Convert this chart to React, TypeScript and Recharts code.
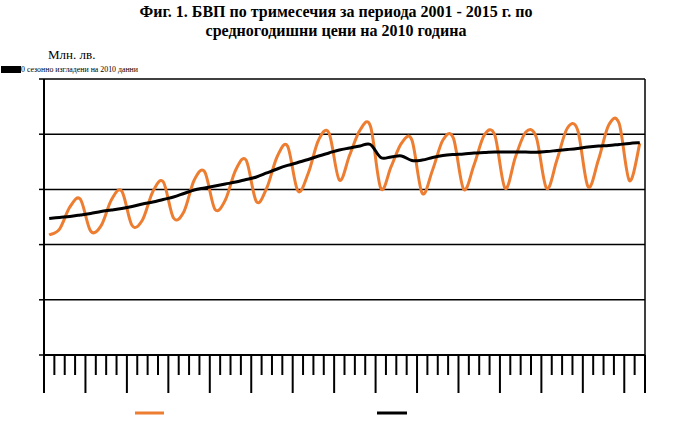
import React from 'react';
import { LineChart, Line, XAxis, YAxis, CartesianGrid, ReferenceLine } from 'recharts';

const years = [2001, 2002, 2003, 2004, 2005, 2006, 2007, 2008, 2009, 2010, 2011, 2012, 2013, 2014, 2015];
const quarters = ['I', 'II', 'III', 'IV'];

// БВП по средногодишни цени на 2010 г., млн. лв. (исходни данни)
const gdp = [
  10870, 11410, 13410, 14130,
  11230, 11690, 14040, 14860,
  11730, 12230, 14790, 15700,
  12410, 12980, 15850, 16600,
  13200, 14040, 16760, 17660,
  13890, 15130, 17960, 18930,
  14860, 16460, 19480, 20110,
  15850, 18120, 20380, 20740,
  15100, 17060, 19180, 19480,
  14650, 16760, 19480, 19660,
  15010, 17210, 19930, 19930,
  15100, 17940, 20200, 19750,
  15100, 17660, 20540, 20380,
  15250, 17660, 20830, 20990,
  15790, 19180,
];

// Сезонно изгладени данни
const trend = [
  12360, 12460, 12550, 12680,
  12820, 13000, 13130, 13270,
  13450, 13680, 13860, 14090,
  14310, 14630, 14950, 15130,
  15310, 15490, 15670, 15900,
  16120, 16490, 16850, 17170,
  17440, 17710, 18030, 18300,
  18570, 18750, 18930, 19070,
  17890, 17940, 18030, 17620,
  17660, 17890, 18070, 18160,
  18210, 18300, 18340, 18390,
  18390, 18390, 18390, 18360,
  18430, 18520, 18610, 18710,
  18840, 18930, 18980, 19070,
  19160, 19230,
];

const yTicks = [0, 5000, 10000, 15000, 20000, 25000];

const categories: string[] = [];
years.forEach((y) => quarters.forEach((q) => categories.push(`${q}.${y}`)));
const labels = categories.slice(0, gdp.length);

const data = labels.map((label, i) => ({ idx: i, label, gdp: gdp[i], trend: trend[i] }));

const n = data.length;
const xTicks = Array.from({ length: n + 1 }, (_, k) => k - 0.5);

const GDP_COLOR = '#ED7D31';
const TREND_COLOR = '#000000';

// Excel-like smoothed line (Catmull-Rom through every point)
const excelSmooth = (context: any) => {
  let pts: number[][] = [];
  return {
    areaStart() {},
    areaEnd() {},
    lineStart() {
      pts = [];
    },
    point(x: number, y: number) {
      pts.push([+x, +y]);
    },
    lineEnd() {
      const m = pts.length;
      if (!m) return;
      context.moveTo(pts[0][0], pts[0][1]);
      for (let i = 0; i < m - 1; i++) {
        const p0 = pts[i - 1] || pts[i];
        const p1 = pts[i];
        const p2 = pts[i + 1];
        const p3 = pts[i + 2] || p2;
        context.bezierCurveTo(
          p1[0] + (p2[0] - p0[0]) / 6,
          p1[1] + (p2[1] - p0[1]) / 6,
          p2[0] - (p3[0] - p1[0]) / 6,
          p2[1] - (p3[1] - p1[1]) / 6,
          p2[0],
          p2[1]
        );
      }
    },
  };
};

const XTick = (props: any) => {
  const { x, y, payload } = props;
  const k = Math.round(payload.value + 0.5);
  const major = k % 4 === 0 || k === n;
  return <line x1={x} x2={x} y1={y} y2={y + (major ? 38 : 20)} stroke="#000" strokeWidth={2} />;
};

export default function App() {
  return (
    <div style={{ position: 'absolute', left: 0, top: 0, width: 673, height: 428, background: '#fff' }}>
      <div
        style={{
          position: 'absolute',
          left: 0,
          top: 2,
          width: 672,
          textAlign: 'center',
          fontFamily: '"Liberation Serif", "Times New Roman", serif',
          fontWeight: 'bold',
          fontSize: 16,
          lineHeight: '19px',
          color: '#000',
        }}
      >
        Фиг. 1. БВП по тримесечия за периода 2001 - 2015 г. по
        <br />
        средногодишни цени на 2010 година
      </div>
      <div
        style={{
          position: 'absolute',
          left: 48,
          top: 47,
          fontFamily: '"Liberation Serif", serif',
          fontSize: 13,
          lineHeight: '15px',
          color: '#000',
        }}
      >
        Млн. лв.
      </div>
      <div style={{ position: 'absolute', left: 1, top: 66, width: 20, height: 7, background: '#000' }} />
      <svg style={{ position: 'absolute', left: 0, top: 62 }} width={145} height={14}>
        <text
          x={21}
          y={10}
          fontFamily='"Liberation Serif", serif'
          fontSize={8}
          textLength={117}
          lengthAdjust="spacingAndGlyphs"
          fill="#000"
        >
          0 сезонно изгладени на 2010 данни
        </text>
      </svg>
      <div style={{ position: 'absolute', left: 0, top: 0 }}>
        <LineChart width={673} height={428} data={data} margin={{ top: 79, right: 28, bottom: 33, left: 0 }}>
          <CartesianGrid horizontal vertical={false} stroke="#000" strokeWidth={1.5} />
          <XAxis
            dataKey="idx"
            type="number"
            domain={[-0.5, n - 0.5]}
            ticks={xTicks}
            interval={0}
            tick={<XTick />}
            tickLine={false}
            tickSize={0}
            tickMargin={0}
            height={40}
            axisLine={{ stroke: '#000', strokeWidth: 2 }}
          />
          <YAxis
            domain={[0, 25000]}
            ticks={yTicks}
            width={44}
            tickSize={5}
            tickFormatter={() => ''}
            tickLine={{ stroke: '#000', strokeWidth: 1.5 }}
            axisLine={{ stroke: '#000', strokeWidth: 2 }}
          />
          <ReferenceLine x={n - 0.5} stroke="#000" strokeWidth={1.5} />
          <Line
            dataKey="gdp"
            type={excelSmooth as any}
            stroke={GDP_COLOR}
            strokeWidth={3}
            dot={false}
            isAnimationActive={false}
          />
          <Line
            dataKey="trend"
            type={excelSmooth as any}
            stroke={TREND_COLOR}
            strokeWidth={3}
            dot={false}
            isAnimationActive={false}
          />
        </LineChart>
      </div>
      <svg style={{ position: 'absolute', left: 0, top: 403 }} width={673} height={20}>
        <line x1={135} x2={164} y1={10} y2={10} stroke={GDP_COLOR} strokeWidth={3} />
        <line x1={377} x2={407} y1={10} y2={10} stroke={TREND_COLOR} strokeWidth={3} />
      </svg>
    </div>
  );
}
